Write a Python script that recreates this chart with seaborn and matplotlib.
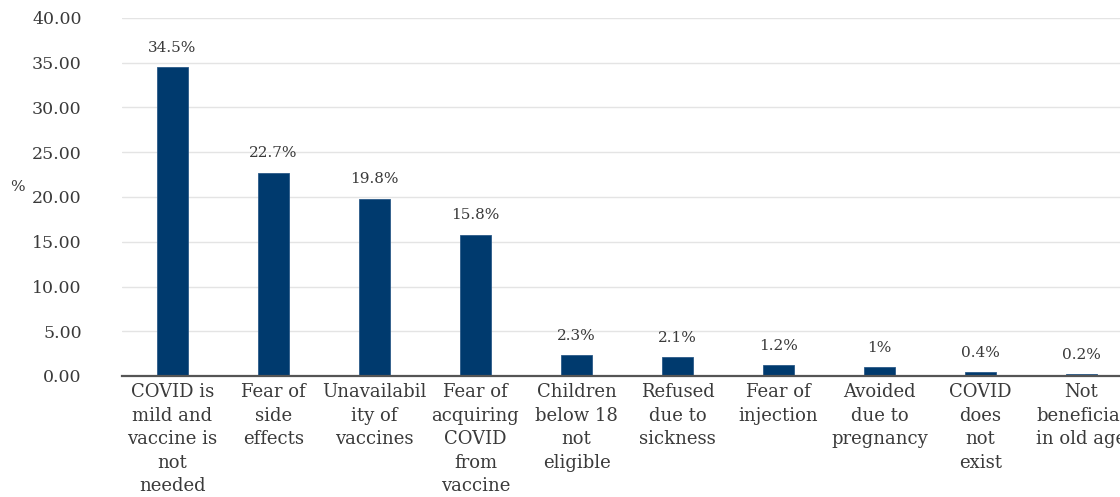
import matplotlib
matplotlib.use("Agg")
import matplotlib.pyplot as plt
import seaborn as sns
import pandas as pd

# Reasons for not taking the COVID vaccine (% of respondents)
reasons = [
    "COVID is\nmild and\nvaccine is\nnot\nneeded",
    "Fear of\nside\neffects",
    "Unavailabil\nity of\nvaccines",
    "Fear of\nacquiring\nCOVID\nfrom\nvaccine",
    "Children\nbelow 18\nnot\neligible",
    "Refused\ndue to\nsickness",
    "Fear of\ninjection",
    "Avoided\ndue to\npregnancy",
    "COVID\ndoes\nnot\nexist",
    "Not\nbeneficial\nin old age",
]
percent = [34.5, 22.7, 19.8, 15.8, 2.3, 2.1, 1.2, 1.0, 0.4, 0.2]
y_ticks = [0, 5, 10, 15, 20, 25, 30, 35, 40]

df = pd.DataFrame({"reason": reasons, "percent": percent})

sns.set_theme(style="white")
plt.rcParams["font.family"] = ["DejaVu Serif"]

text_color = "#3a3a3a"
bar_color = "#003a6e"

fig = plt.figure(figsize=(11.2, 4.97), dpi=100)
ax = fig.add_axes([122 / 1120, 1 - 376 / 497, 1010 / 1120, (376 - 18) / 497])

sns.barplot(data=df, x="reason", y="percent", color=bar_color,
            saturation=1, width=0.31, ax=ax, edgecolor="#2b5a88", linewidth=0.6)

ax.set_ylim(0, 40)
ax.set_yticks(y_ticks)
ax.set_yticklabels([f"{t:.2f}" for t in y_ticks], fontsize=12.5, color=text_color)
ax.set_xlim(-0.5, len(reasons) - 0.5)
ax.grid(axis="y", color="#e4e4e4", linewidth=1)
ax.set_axisbelow(True)
for side in ["left", "right", "top"]:
    ax.spines[side].set_visible(False)
ax.spines["bottom"].set_color("#555555")
ax.spines["bottom"].set_linewidth(1.6)
ax.tick_params(axis="y", length=0, pad=29)
ax.tick_params(axis="x", length=0, pad=5)
for lbl in ax.get_xticklabels():
    lbl.set_fontsize(13)
    lbl.set_color(text_color)
    lbl.set_linespacing(1.4)
    lbl.set_verticalalignment("top")
ax.set_xlabel("")
ax.set_ylabel("")

for i, v in enumerate(percent):
    ax.annotate(f"{v:g}%", (i, v), xytext=(0, 9), textcoords="offset points",
                ha="center", va="bottom", fontsize=11, color=text_color)

fig.text(17 / 1120, 1 - 187 / 497, "%", fontsize=11, color=text_color,
         ha="center", va="center")

fig.savefig("out.png", dpi=100)
